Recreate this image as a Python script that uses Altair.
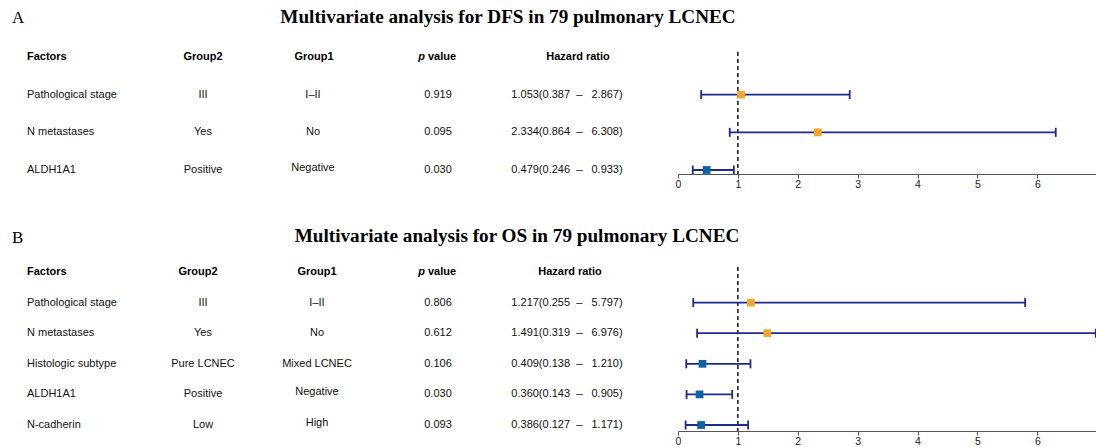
import altair as alt
import pandas as pd

# ---------------- data ----------------
A_factors = ["Pathological stage", "N metastases", "ALDH1A1"]
A_group2 = ["III", "Yes", "Positive"]
A_group1 = ["I\u2013II", "No", "Negative"]
A_p = ["0.919", "0.095", "0.030"]
A_hr = [1.053, 2.334, 0.479]
A_lo = [0.387, 0.864, 0.246]
A_hi = [2.867, 6.308, 0.933]

B_factors = ["Pathological stage", "N metastases", "Histologic subtype", "ALDH1A1", "N-cadherin"]
B_group2 = ["III", "Yes", "Pure LCNEC", "Positive", "Low"]
B_group1 = ["I\u2013II", "No", "Mixed LCNEC", "Negative", "High"]
B_p = ["0.806", "0.612", "0.106", "0.030", "0.093"]
B_hr = [1.217, 1.491, 0.409, 0.360, 0.386]
B_lo = [0.255, 0.319, 0.138, 0.143, 0.127]
B_hi = [5.797, 6.976, 1.210, 0.905, 1.171]

A_title = "Multivariate analysis for DFS in 79 pulmonary LCNEC"
B_title = "Multivariate analysis for OS in 79 pulmonary LCNEC"

NAVY = "#1f2a8c"
ORANGE = "#f4a62a"
BLUE = "#0d5fa6"
SANS = "Liberation Sans"
SERIF = "Liberation Serif"
FS = 11
W = 1096
RAISED = ["Negative", "High"]  # labels drawn slightly higher in the original


def fmt_hr(h, l, u):
    sp = "\u00a0\u00a0"
    return f"{h:.3f}({l:.3f}{sp}\u2013{sp}\u00a0{u:.3f})"


def panel(factors, g2, g1, pv, hr, lo, hi, title, letter, H, y_head, y_last,
          title_x, title_y, letter_y, dash_top, colx, headx):
    n = len(factors)
    df = pd.DataFrame({
        "row": list(range(1, n + 1)),
        "factor": factors, "g2": g2, "g1": g1, "p": pv,
        "hrtxt": [fmt_hr(h, l, u) for h, l, u in zip(hr, lo, hi)],
        "hr": hr, "lo": lo, "hi": hi,
        "dir": ["up" if h > 1 else "down" for h in hr],
        "raised": [v in RAISED for v in g1],
    })
    ys = alt.Scale(domain=[0, n], range=[y_head, y_last], nice=False, zero=False)
    xs = alt.Scale(domain=[0, 6.98], range=[678, W], nice=False, zero=True)
    xaxis = alt.Axis(values=[0, 1, 2, 3, 4, 5, 6], title=None, grid=False,
                     domainColor="#555555", tickColor="#555555", tickSize=4,
                     labelFontSize=10.5, labelColor="#222222", labelFont=SANS,
                     format="d", labelPadding=1, domainWidth=1.2, labelFlush=False)
    Y = alt.Y("row:Q", scale=ys, axis=None)

    layers = []
    # title and letter
    layers.append(alt.Chart(pd.DataFrame({"t": [letter]})).mark_text(
        align="left", baseline="middle", font=SERIF, fontSize=17, color="black"
    ).encode(x=alt.value(12), y=alt.value(letter_y), text="t:N"))
    layers.append(alt.Chart(pd.DataFrame({"t": [title]})).mark_text(
        align="center", baseline="middle", font=SERIF, fontSize=19.2, fontWeight="bold", color="black"
    ).encode(x=alt.value(title_x), y=alt.value(title_y), text="t:N"))

    # headers
    head = pd.DataFrame({"row": [0]})
    for lab, x, al in [("Factors", headx[0], "left"), ("Group2", headx[1], "center"),
                       ("Group1", headx[2], "center"), ("Hazard ratio", headx[4], "center")]:
        layers.append(alt.Chart(head.assign(t=lab)).mark_text(
            align=al, baseline="middle", font=SANS, fontSize=FS, fontWeight="bold", color="black"
        ).encode(x=alt.value(x), y=Y, text="t:N"))
    layers.append(alt.Chart(head.assign(t="p")).mark_text(
        align="right", baseline="middle", font=SANS, fontSize=FS, fontWeight="bold",
        fontStyle="italic", color="black"
    ).encode(x=alt.value(headx[3] - 11), y=Y, text="t:N"))
    layers.append(alt.Chart(head.assign(t="value")).mark_text(
        align="left", baseline="middle", font=SANS, fontSize=FS, fontWeight="bold", color="black"
    ).encode(x=alt.value(headx[3] - 8), y=Y, text="t:N"))

    # table cells
    for col, x, al in [("factor", colx[0], "left"), ("g2", colx[1], "center"),
                       ("p", colx[3], "center"), ("hrtxt", colx[4], "center")]:
        layers.append(alt.Chart(df).mark_text(
            align=al, baseline="middle", font=SANS, fontSize=FS, color="#111111"
        ).encode(x=alt.value(x), y=Y, text=f"{col}:N"))
    for flag, dy in [(False, 0), (True, -2)]:
        layers.append(alt.Chart(df).transform_filter(
            alt.datum.raised == flag
        ).mark_text(
            align="center", baseline="middle", font=SANS, fontSize=FS, color="#111111", dy=dy
        ).encode(x=alt.value(colx[2]), y=Y, text="g1:N"))

    # forest plot
    layers.append(alt.Chart(pd.DataFrame({"v": [1]})).mark_rule(
        color="black", strokeDash=[4, 3], strokeWidth=1.4
    ).encode(x=alt.X("v:Q", scale=xs, axis=xaxis), y=alt.value(dash_top), y2=alt.value(H)))
    layers.append(alt.Chart(df).mark_rule(color=NAVY, strokeWidth=1.8, clip=True).encode(
        x=alt.X("lo:Q", scale=xs, axis=xaxis), x2="hi:Q", y=Y))
    for f in ["lo", "hi"]:
        layers.append(alt.Chart(df).mark_tick(
            orient="vertical", size=9, thickness=1.8, color=NAVY, opacity=1, clip=True
        ).encode(x=alt.X(f"{f}:Q", scale=xs, axis=xaxis), y=Y))
    layers.append(alt.Chart(df).mark_square(size=60, opacity=1).encode(
        x=alt.X("hr:Q", scale=xs, axis=xaxis), y=Y,
        color=alt.Color("dir:N", scale=alt.Scale(domain=["up", "down"], range=[ORANGE, BLUE]),
                        legend=None)))

    return alt.layer(*layers).properties(width=W, height=H)


pA = panel(A_factors, A_group2, A_group1, A_p, A_hr, A_lo, A_hi, A_title, "A",
           H=174, y_head=57, y_last=170, title_x=508, title_y=17, letter_y=18, dash_top=52,
           colx=[27, 203, 313, 438, 567], headx=[27, 203, 314, 436, 578])
pB = panel(B_factors, B_group2, B_group1, B_p, B_hr, B_lo, B_hi, B_title, "B",
           H=231, y_head=72, y_last=225, title_x=517, title_y=36, letter_y=38, dash_top=67,
           colx=[27, 203, 317, 438, 567], headx=[27, 198, 317, 436, 570])

chart = alt.vconcat(pA, pB, spacing=26, bounds="flush").properties(
    padding=0, background="white"
).configure_view(stroke=None)

chart.save("out.html", embed_options={"renderer": "svg", "actions": False})
